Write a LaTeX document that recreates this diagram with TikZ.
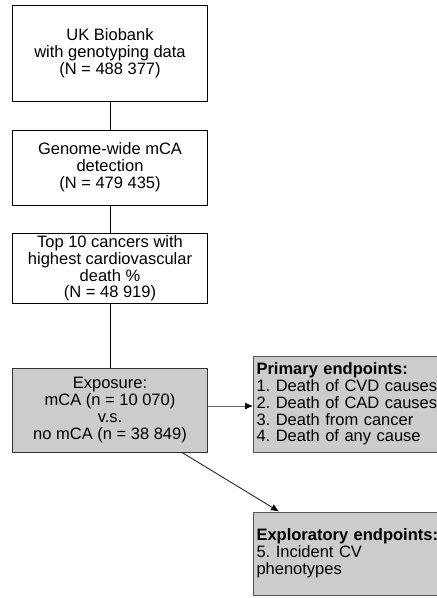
\documentclass[tikz,border=0pt]{standalone}
\usepackage{fontspec}
\setmainfont{Liberation Sans}
\usetikzlibrary{arrows.meta}
\definecolor{boxgray}{HTML}{CCCCCC}
\definecolor{edgegray}{HTML}{555555}
\newcommand{\nohyph}{\hyphenpenalty=10000\relax}
\tikzset{
  flowbox/.style={draw=black, line width=0.9pt, fill=white, minimum width=195pt, inner sep=2pt,
    align=center, font=\frenchspacing\fontsize{16.5}{16.8}\selectfont},
  expbox/.style={flowbox, fill=boxgray, draw=black!80},
  endbox/.style={draw=edgegray, line width=1pt, fill=boxgray, text width=200pt, inner xsep=3pt, inner ysep=2pt,
    align=left, font=\frenchspacing\nohyph\fontsize{16.5}{16.8}\selectfont},
  link/.style={draw=black, line width=0.8pt},
  arr/.style={line width=0.9pt, -{Latex[length=8pt,width=7pt,color=black]}}
}
\begin{document}
\begin{tikzpicture}[x=1pt,y=-1pt]
\clip (0,0) rectangle (437,598);
\fill[white] (0,0) rectangle (437,598);
\node[flowbox, minimum height=96pt] (b1) at (110,53) {UK Biobank\\with genotyping data\\(N = 488 377)};
\node[flowbox, minimum height=75pt] (b2) at (110,167.5) {Genome-wide mCA\\detection\\(N = 479 435)};
\node[flowbox, minimum height=69pt] (b3) at (110,268.5) {Top 10 cancers with\\highest cardiovascular\\death \%\\(N = 48 919)};
\node[expbox, minimum height=84pt] (b4) at (110,410) {Exposure:\\mCA (n = 10 070)\\v.s.\\no mCA (n = 38 849)};
\node[endbox, minimum height=96pt, anchor=west] (b5) at (253,404) {\textbf{Primary endpoints:}\\1. Death of CVD causes\\2. Death of CAD causes\\3. Death from cancer\\4. Death of any cause};
\node[endbox, minimum height=83pt, anchor=west] (b6) at (253,553.5) {\textbf{Exploratory endpoints:}\\5. Incident CV\\phenotypes};
\draw[link] (b1.south) -- (b2.north);
\draw[link] (b2.south) -- (b3.north);
\draw[link] (b3.south) -- (b4.north);
\draw[arr, draw=black!60] ([yshift=4pt]b4.east) -- ([yshift=4pt]b4.east -| b5.west);
\draw[arr, draw=black!85] ([xshift=-26pt]b4.south east) -- ([xshift=26pt]b6.north west);
\end{tikzpicture}
\end{document}
